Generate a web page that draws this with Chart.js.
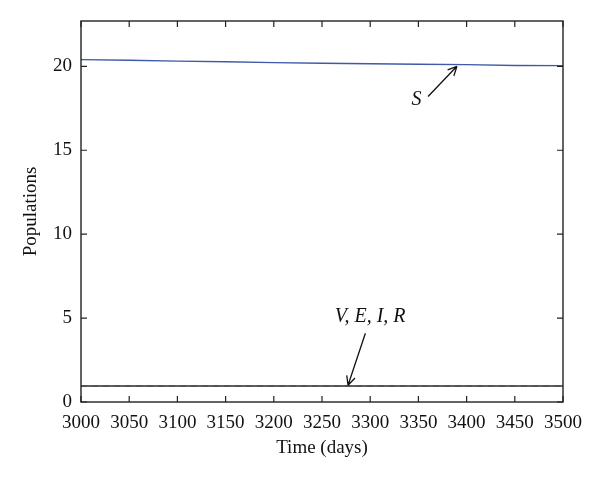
<!DOCTYPE html>
<html>
<head>
<meta charset="utf-8">
<script src="https://cdn.jsdelivr.net/npm/chart.js@4/dist/chart.umd.min.js"></script>
<style>
  html, body { margin: 0; padding: 0; background: #fff; }
  #wrap { width: 600px; height: 479px; }
</style>
</head>
<body>
<div id="wrap"><canvas id="myChart" width="600" height="479"></canvas></div>
<script>
// time points (days) and populations
const days = [3000, 3050, 3100, 3150, 3200, 3250, 3300, 3350, 3400, 3450, 3500];
const sValues = [20.40, 20.36, 20.31, 20.27, 20.22, 20.18, 20.15, 20.12, 20.10, 20.05, 20.04];
const vValues = [0.95, 0.95, 0.95, 0.95, 0.95, 0.95, 0.95, 0.95, 0.95, 0.95, 0.95];
const eiValues = [0.95, 0.95, 0.95, 0.95, 0.95, 0.95, 0.95, 0.95, 0.95, 0.95, 0.95];
const yTickValues = [0, 5, 10, 15, 20];

// arrow labels, in data coordinates
const notes = [
    { text: 'S', x: 3348, y: 18.0, from: [3360, 18.2], to: [3390, 20.0] },
    { text: 'V, E, I, R', x: 3300, y: 5.1, from: [3295, 4.1], to: [3277, 1.0] }
];

const FONT = '"Liberation Serif", "DejaVu Serif", serif';

const pts = vals => days.map((d, i) => ({ x: d, y: vals[i] }));

// inward ticks on all four sides, plus the box
const frame = {
    id: 'frame',
    afterDraw(chart) {
        const { ctx, chartArea: a, scales } = chart;
        ctx.save();
        ctx.strokeStyle = '#222';
        ctx.lineWidth = 1.4;
        ctx.strokeRect(a.left, a.top, a.right - a.left, a.bottom - a.top);
        ctx.lineWidth = 1.2;
        ctx.beginPath();
        scales.x.ticks.forEach(t => {
            const px = scales.x.getPixelForValue(t.value);
            ctx.moveTo(px, a.bottom); ctx.lineTo(px, a.bottom - 6);
            ctx.moveTo(px, a.top); ctx.lineTo(px, a.top + 6);
        });
        scales.y.ticks.forEach(t => {
            const py = scales.y.getPixelForValue(t.value);
            ctx.moveTo(a.left, py); ctx.lineTo(a.left + 6, py);
            ctx.moveTo(a.right, py); ctx.lineTo(a.right - 6, py);
        });
        ctx.stroke();

        // annotations
        ctx.fillStyle = '#111';
        ctx.strokeStyle = '#111';
        ctx.font = 'italic 20px ' + FONT;
        ctx.textAlign = 'center';
        ctx.textBaseline = 'middle';
        notes.forEach(n => {
            ctx.fillText(n.text, scales.x.getPixelForValue(n.x), scales.y.getPixelForValue(n.y));
            const x1 = scales.x.getPixelForValue(n.from[0]), y1 = scales.y.getPixelForValue(n.from[1]);
            const x2 = scales.x.getPixelForValue(n.to[0]), y2 = scales.y.getPixelForValue(n.to[1]);
            const ang = Math.atan2(y2 - y1, x2 - x1);
            ctx.lineWidth = 1.3;
            ctx.beginPath();
            ctx.moveTo(x1, y1); ctx.lineTo(x2, y2);
            ctx.moveTo(x2, y2);
            ctx.lineTo(x2 - 10 * Math.cos(ang - 0.45), y2 - 10 * Math.sin(ang - 0.45));
            ctx.moveTo(x2, y2);
            ctx.lineTo(x2 - 10 * Math.cos(ang + 0.45), y2 - 10 * Math.sin(ang + 0.45));
            ctx.stroke();
        });
        ctx.restore();
    }
};

new Chart(document.getElementById('myChart'), {
    type: 'line',
    data: {
        datasets: [
            { label: 'S', data: pts(sValues), borderColor: '#3f5aa8', borderWidth: 1.4, pointRadius: 0, tension: 0 },
            { label: 'V', data: pts(vValues), borderColor: '#2a2a2a', borderWidth: 1.6, pointRadius: 0, tension: 0 },
            { label: 'E, I, R', data: pts(eiValues), borderColor: '#8a8a8a', borderWidth: 0.8, borderDash: [6, 5], pointRadius: 0, tension: 0 }
        ]
    },
    options: {
        responsive: false,
        animation: false,
        layout: { padding: { top: 21, right: 37, left: 0, bottom: 0 } },
        plugins: { legend: { display: false }, tooltip: { enabled: false } },
        scales: {
            x: {
                type: 'linear',
                min: 3000,
                max: 3500,
                grid: { display: false, drawTicks: false },
                border: { display: false },
                ticks: { stepSize: 50, color: '#111', padding: 10, maxRotation: 0, font: { family: FONT, size: 19 },
                         callback: v => String(v) },
                title: { display: true, text: 'Time (days)', color: '#111', padding: { top: 0, bottom: 20 }, font: { family: FONT, size: 19 } },
                afterFit(s) { s.height = 77; }
            },
            y: {
                min: 0,
                max: 22.7,
                grid: { display: false, drawTicks: false },
                border: { display: false },
                afterBuildTicks(s) { s.ticks = yTickValues.map(v => ({ value: v })); },
                ticks: { color: '#111', padding: 9, font: { family: FONT, size: 19 } },
                title: { display: true, text: 'Populations', color: '#111', padding: { top: 20, bottom: 0 }, font: { family: FONT, size: 19 } },
                afterFit(s) { s.width = 81; }
            }
        }
    },
    plugins: [frame]
});
</script>
</body>
</html>
